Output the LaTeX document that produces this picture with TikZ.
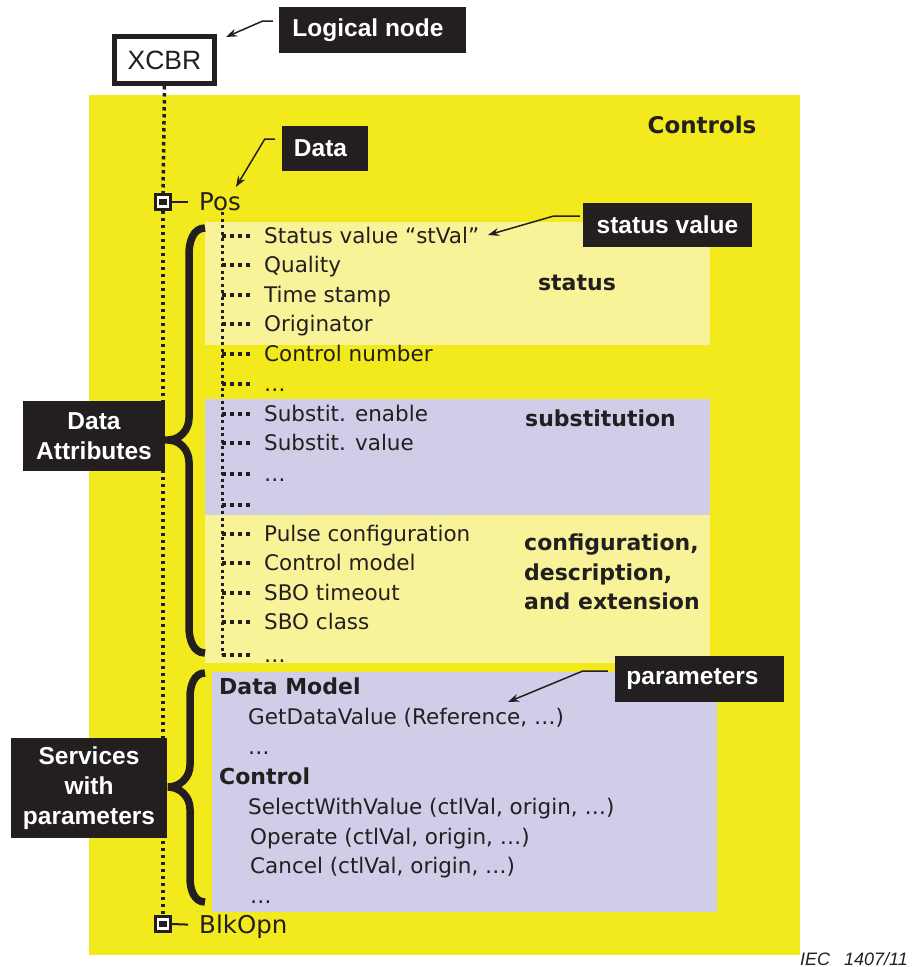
\documentclass[tikz,border=0pt]{standalone}
\usepackage{fontspec}
\setmainfont{DejaVu Sans}
\newfontfamily\labelfont{Liberation Sans}
\usetikzlibrary{arrows.meta}

\definecolor{ctlyellow}{RGB}{242,234,28}
\definecolor{paleyellow}{RGB}{248,242,152}
\definecolor{lavender}{RGB}{207,205,232}
\definecolor{boxblack}{RGB}{35,31,32}

\newcommand{\bodysize}{\fontsize{21.5bp}{29.5bp}\selectfont}
\newcommand{\headsize}{\fontsize{22bp}{29.5bp}\selectfont\bfseries}

\tikzstyle{blackbox}=[fill=boxblack, text=white, align=center, inner sep=0, font=\labelfont\bfseries\fontsize{24.5bp}{30bp}\selectfont]
\tikzstyle{attr}=[anchor=west, inner sep=0, text height=15bp, text depth=0bp, text=boxblack, font=\bodysize]
\tikzstyle{attrhead}=[attr, font=\headsize]
\tikzstyle{leafname}=[anchor=west, inner sep=0, text height=17.5bp, text depth=0bp, text=boxblack, font=\fontsize{24.5bp}{29bp}\selectfont]
\tikzstyle{heading}=[inner sep=0, text=boxblack, font=\headsize]
\tikzstyle{callout}=[boxblack, line width=1.5bp, -{Stealth[length=11bp,width=8bp]}]
\tikzstyle{trunkdots}=[boxblack, line width=3.5bp, dash pattern=on 3.5bp off 3.5bp]
\tikzstyle{leafdots}=[boxblack, line width=3.5bp, dash pattern=on 3.5bp off 4.5bp, shorten >=12bp]
\tikzstyle{subdots}=[boxblack, line width=3bp, dash pattern=on 3bp off 3.5bp]
\tikzstyle{stub}=[boxblack, line width=2bp, shorten >=11bp]
\tikzstyle{bracket}=[boxblack, line width=7.5bp]
\tikzstyle{dataicon}=[draw=boxblack, fill=white, line width=2.5bp, minimum size=15bp, inner sep=0]
\tikzstyle{iconcore}=[fill=boxblack, minimum width=8bp, minimum height=6bp, inner sep=0]

\begin{document}
\begin{tikzpicture}[x=1bp, y=-1bp]
  \useasboundingbox (0,0) rectangle (917,967);
  \fill[ctlyellow] (89,95) rectangle (800,955);
  \fill[paleyellow] (205,222) rectangle (710,345);
  \fill[lavender] (205,399) rectangle (710,515);
  \fill[paleyellow] (205,515) rectangle (710,663);
  \fill[lavender] (212,672) rectangle (717,912);

  \node[draw=boxblack, line width=5bp, fill=white, minimum width=100bp, minimum height=47bp, inner sep=0, text=boxblack, font=\labelfont\fontsize{26.5bp}{30bp}\selectfont] (xcbr) at (164.5,60) {XCBR};
  \node[heading, font=\fontsize{23bp}{28bp}\selectfont\bfseries] (controls) at (702,125) {Controls};

  \node[dataicon] (posicon) at (163,202) {};
  \node[iconcore] at (posicon) {};
  \node[leafname] (pos) at (199,202) {Pos};
  \draw[stub] (posicon.east) -- (pos.west);
  \node[dataicon] (blkicon) at (163,924) {};
  \node[iconcore] at (blkicon) {};
  \node[leafname] (blkopn) at (199,925) {BlkOpn};
  \draw[stub] (blkicon.east) -- (blkopn.west);

  \foreach \y/\t [count=\i] in {236/Status value “stVal”, 265/Quality, 295/Time stamp, 324/Originator,
      354/Control number, 384/…, 414/Substit. enable, 443/Substit. value, 474/…, 505/{},
      534/Pulse configuration, 563/Control model, 593/SBO timeout, 622/SBO class, 655/…}{
    \coordinate (t\i) at (222,\y);
    \node[attr] (a\i) at (264,\y) {\t};
    \draw[leafdots] (t\i) -- (a\i.west);
  }
  \coordinate (subtop) at (222,212);
  \draw[subdots] (subtop) -- (t15);

  \node[heading] (status) at (577,283) {status};
  \node[heading, anchor=west] (subst) at (525,418) {substitution};
  \node[heading, anchor=west, align=left] (config) at (524,572) {configuration,\\description,\\and extension};

  \node[attrhead] (dmodel) at (219,687) {Data Model};
  \node[attr] (getdv) at (248,717) {GetDataValue (Reference, …)};
  \node[attr] (dmmore) at (248,747) {…};
  \node[attrhead] (control) at (219,777) {Control};
  \node[attr] (selwv) at (248,807) {SelectWithValue (ctlVal, origin, …)};
  \node[attr] (operate) at (250,837) {Operate (ctlVal, origin, …)};
  \node[attr] (cancel) at (250,866) {Cancel (ctlVal, origin, …)};
  \node[attr] (ctlmore) at (250,896) {…};

  \draw[bracket] (205,228) to[out=180,in=90] (189,254) -- (189,418) to[out=-90,in=0] (168,440)
    to[out=0,in=90] (189,462) -- (189,627) to[out=-90,in=180] (205,653);
  \draw[bracket] (205,673) to[out=180,in=90] (190,697) -- (190,765) to[out=-90,in=0] (168,787)
    to[out=0,in=90] (190,809) -- (190,878) to[out=-90,in=180] (205,902);

  \node[blackbox, minimum width=187bp, minimum height=46bp] (lnbox) at (372.5,30) {Logical node\hspace{9bp}};
  \node[blackbox, minimum width=86bp, minimum height=45bp] (databox) at (325,148.5) {Data\hspace{9bp}};
  \node[blackbox, minimum width=169bp, minimum height=44bp] (svbox) at (667.5,225) {status value};
  \node[blackbox, minimum width=169bp, minimum height=46bp] (parbox) at (699.5,679) {parameters\hspace{14bp}};
  \node[blackbox, minimum width=142bp, minimum height=70bp] (dabox) at (94,436) {Data\\Attributes};
  \node[blackbox, minimum width=156bp, minimum height=100bp] (svcbox) at (89,788) {Services\\with\\parameters};

  \coordinate (lntip) at (226,37);
  \coordinate (datatip) at (236,187);
  \coordinate (svtip) at (488,235);
  \coordinate (partip) at (508,702);
  \draw[callout] ([shift={(-6,-9)}]lnbox.west) -- ++(-10,0) -- (lntip);
  \draw[callout] ([shift={(-7,-9.5)}]databox.west) -- ++(-10,0) -- (datatip);
  \draw[callout] ([shift={(-3,-9)}]svbox.west) -- ++(-26,0) -- (svtip);
  \draw[callout] ([shift={(-7,-8)}]parbox.west) -- ++(-25,0) -- (partip);

  \draw[trunkdots] (xcbr.south) -- (posicon.north);
  \draw[trunkdots] (posicon.south) -- (blkicon.north);

  \node[anchor=base east, inner sep=0, text=boxblack, font=\labelfont\itshape\fontsize{18bp}{20bp}\selectfont] (iec) at (908,965) {IEC\hspace{14bp}1407/11};
\end{tikzpicture}
\end{document}
